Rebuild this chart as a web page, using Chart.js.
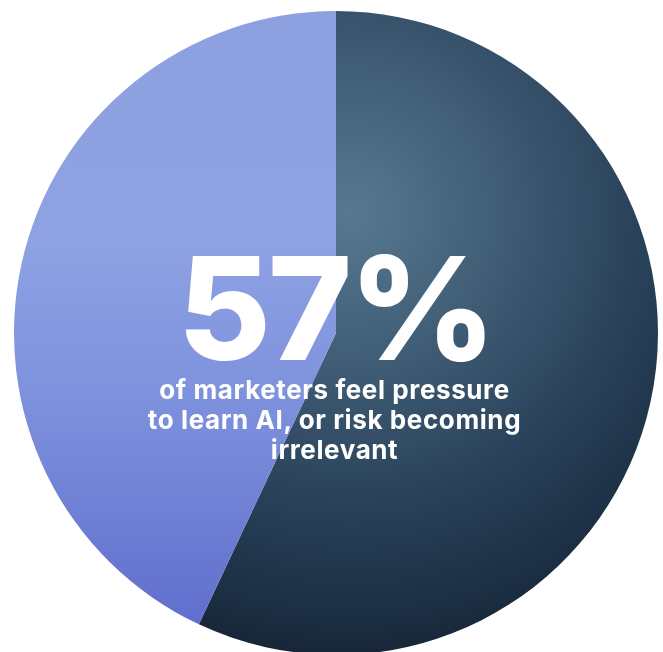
<!DOCTYPE html>
<html>
<head>
<meta charset="utf-8">
<script src="https://cdn.jsdelivr.net/npm/chart.js@4/dist/chart.umd.min.js"></script>
<style>
  html, body { margin: 0; padding: 0; background: #ffffff; overflow: hidden; }
  #wrap { position: relative; width: 663px; height: 660px; }
  #overlay { position: absolute; left: 0; top: 0; width: 663px; pointer-events: none; text-align: center; color: #ffffff; font-family: Inter, "Open Sans", sans-serif; }
  #big { position: absolute; left: 0; width: 663px; top: 236px; font-size: 143px; font-weight: 800; line-height: 1; letter-spacing: -3px; padding-left: 8px; box-sizing: border-box; }
  #sub { position: absolute; left: 0; width: 663px; top: 375px; font-size: 26px; font-weight: 700; line-height: 30px; letter-spacing: 0.6px; padding-left: 6px; box-sizing: border-box; }
</style>
</head>
<body>
<div id="wrap">
  <canvas id="c" width="663" height="660"></canvas>
  <div id="overlay">
    <div id="big"></div>
    <div id="sub"></div>
  </div>
</div>
<script>
const categories = ["Feel pressure to learn AI", "Do not"];
const values = [57, 43];
const headline = "57%";
const subtitleLines = ["of marketers feel pressure", "to learn AI, or risk becoming", "irrelevant"];

document.getElementById('big').textContent = headline;
document.getElementById('sub').innerHTML = subtitleLines.map(s => s.replace(/&/g,'&amp;')).join('<br>');

function sliceFill(context) {
  const chart = context.chart;
  const area = chart.chartArea;
  if (!area) return '#333';
  const ctx = chart.ctx;
  const cx = (area.left + area.right) / 2;
  const cy = (area.top + area.bottom) / 2;
  const r = Math.min(area.right - area.left, area.bottom - area.top) / 2;
  if (context.dataIndex === 0) {
    const g = ctx.createRadialGradient(cx + 15, cy - 120, 0, cx + 15, cy - 120, r * 1.5);
    g.addColorStop(0, '#587891');
    g.addColorStop(0.3, '#405e76');
    g.addColorStop(0.6, '#29425a');
    g.addColorStop(0.85, '#1b2d41');
    g.addColorStop(1, '#131e2b');
    return g;
  } else {
    const g = ctx.createLinearGradient(0, cy - r, 0, cy + r);
    g.addColorStop(0, '#8da1e1');
    g.addColorStop(0.35, '#8ea2e3');
    g.addColorStop(0.6, '#7e91dd');
    g.addColorStop(1, '#5c6acb');
    return g;
  }
}

new Chart(document.getElementById('c'), {
  type: 'pie',
  data: {
    labels: categories,
    datasets: [{
      data: values,
      backgroundColor: sliceFill,
      borderWidth: 0,
      hoverOffset: 0
    }]
  },
  options: {
    responsive: false,
    animation: false,
    layout: { padding: { left: 14, right: 5, top: 11, bottom: 5 } },
    plugins: {
      legend: { display: false },
      tooltip: { enabled: false },
      title: { display: false }
    }
  }
});
</script>
</body>
</html>
